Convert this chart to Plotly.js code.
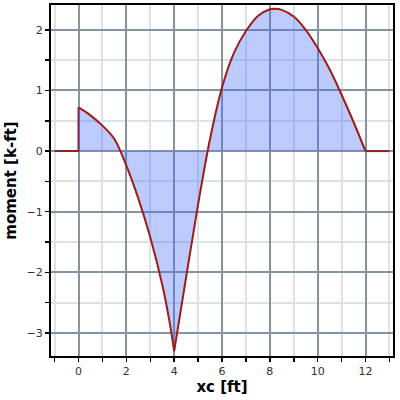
<!DOCTYPE html>
<html>
<head>
<meta charset="utf-8">
<script src="https://cdn.plot.ly/plotly-3.0.1.min.js"></script>
<style>html,body{margin:0;padding:0;background:#fff;}#chart{width:400px;height:400px;}</style>
</head>
<body>
<div id="chart"></div>
<script>
// Bending moment diagram values, split into smooth pieces
const xcLeft = [-1, 0, 0];
const momentLeft = [0, 0, 0.72];
const xcSpan1 = [0, 0.5, 1.0, 1.5, 2.0, 2.5, 3.0, 3.5, 3.8, 4.0];
const momentSpan1 = [0.72, 0.59, 0.42, 0.2, -0.24, -0.78, -1.42, -2.2, -2.8, -3.3];
const xcSpan2 = [4.0, 4.5, 5.0, 5.5, 6.0, 6.5, 7.0, 7.5, 8.0, 8.2, 8.5, 9.0, 9.5, 10.0, 10.5, 11.0, 11.5, 12.0];
const momentSpan2 = [-3.3, -2.08, -0.88, 0.2, 1.05, 1.62, 1.98, 2.23, 2.34, 2.35, 2.33, 2.22, 2.0, 1.7, 1.35, 0.93, 0.48, 0];
const xcRight = [12, 13];
const momentRight = [0, 0];
const xTickVals = [0, 2, 4, 6, 8, 10, 12];
const yTickVals = [-3, -2, -1, 0, 1, 2];

function piece(x, y, smooth) {
  return {
    x: x, y: y, type: 'scatter', mode: 'lines',
    line: {color: '#9c1c1c', width: 2, shape: smooth ? 'spline' : 'linear', smoothing: 1},
    fill: 'tozeroy', fillcolor: 'rgba(70,110,245,0.36)',
    hoverinfo: 'skip'
  };
}
const traces = [
  piece(xcLeft, momentLeft, false),
  piece(xcSpan1, momentSpan1, true),
  piece(xcSpan2, momentSpan2, true),
  piece(xcRight, momentRight, false)
];

const tickFont = {family: 'DejaVu Sans, Verdana, sans-serif', size: 11, color: '#333'};
const titleFont = {family: 'DejaVu Sans, Verdana, sans-serif', size: 15, color: '#000', weight: 'bold'};

const layout = {
  width: 400, height: 400,
  margin: {l: 51, r: 7, t: 5, b: 44},
  paper_bgcolor: '#fff', plot_bgcolor: '#fff',
  showlegend: false,
  xaxis: {
    range: [-1.15, 13.15],
    tickvals: xTickVals,
    ticks: 'outside', ticklen: 4, tickwidth: 1.5, tickcolor: '#000',
    showgrid: true, gridcolor: '#8494a4', gridwidth: 2,
    minor: {dtick: 1, tick0: 0, showgrid: true, gridcolor: '#dde2e8', gridwidth: 2, ticks: 'outside', ticklen: 4, tickcolor: '#000'},
    zeroline: false,
    showline: true, linecolor: '#000', linewidth: 2, mirror: true,
    tickfont: tickFont,
    title: {text: 'xc [ft]', font: titleFont, standoff: 3}
  },
  yaxis: {
    range: [-3.38, 2.41],
    tickvals: yTickVals,
    ticks: 'outside', ticklen: 4, tickwidth: 1.5, tickcolor: '#000',
    showgrid: true, gridcolor: '#8494a4', gridwidth: 2,
    minor: {dtick: 0.5, tick0: 0, showgrid: true, gridcolor: '#dde2e8', gridwidth: 2, ticks: 'outside', ticklen: 4, tickcolor: '#000'},
    zeroline: false,
    showline: true, linecolor: '#000', linewidth: 2, mirror: true,
    tickfont: tickFont,
    title: {text: 'moment [k-ft]', font: titleFont, standoff: 6}
  }
};

Plotly.newPlot('chart', traces, layout, {staticPlot: true, displayModeBar: false});
</script>
</body>
</html>
